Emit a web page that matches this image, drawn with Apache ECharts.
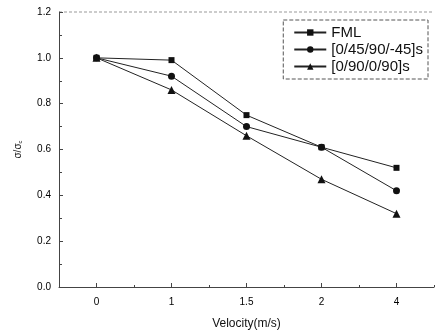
<!DOCTYPE html>
<html><head><meta charset="utf-8">
<script src="https://cdn.jsdelivr.net/npm/echarts@6/dist/echarts.min.js"></script>
<style>html,body{margin:0;padding:0;background:#fff}#c{width:435px;height:335px}</style>
</head><body><div id="c"></div>
<script>
var categories = ['0', '1', '1.5', '2', '4'];
var seriesNames = ['FML', '[0/45/90/-45]s', '[0/90/0/90]s'];
var fml = [1.0, 0.99, 0.75, 0.61, 0.52];
var quasi = [1.0, 0.92, 0.70, 0.61, 0.42];
var cross = [1.0, 0.86, 0.66, 0.47, 0.32];
var yTicks = [0, 0.2, 0.4, 0.6, 0.8, 1.0, 1.2];

var chart = echarts.init(document.getElementById('c'));
var font = 'Liberation Sans, Arial, sans-serif';
function mk(name, data, symbol, size) {
  return {
    name: name, type: 'line', data: data, symbol: symbol, symbolSize: size,
    itemStyle: {color: '#111'}, lineStyle: {color: '#222', width: 1},
    animation: false
  };
}
chart.setOption({
  animation: false,
  grid: {left: 59, top: 12, right: 1, bottom: 46},
  legend: {
    right: 7, top: 20, orient: 'vertical', itemGap: 2, itemWidth: 32, itemHeight: 8,
    borderColor: '#555', borderWidth: 1, borderType: 'dashed', padding: [5, 5, 5, 10],
    textStyle: {fontFamily: font, fontSize: 15, color: '#111'},
    data: seriesNames
  },
  xAxis: [{
    type: 'category', data: categories, boundaryGap: true,
    name: 'Velocity(m/s)', nameLocation: 'middle', nameGap: 31,
    nameTextStyle: {fontFamily: font, fontSize: 12, color: '#111'},
    axisLine: {lineStyle: {color: '#444', width: 1}},
    axisTick: {show: true, inside: true, alignWithLabel: true, length: 4, lineStyle: {color: '#444'}},
    axisLabel: {fontFamily: font, fontSize: 10, color: '#000', margin: 10},
    splitLine: {show: false}
  }, {
    type: 'category', data: categories, boundaryGap: true, position: 'bottom',
    axisLine: {show: false},
    axisTick: {show: true, inside: true, alignWithLabel: false, length: 2, lineStyle: {color: '#444'}},
    axisLabel: {show: false}, splitLine: {show: false}
  }],
  yAxis: {
    type: 'value', min: 0, max: 1.2, interval: 0.2,
    name: '{a|σ/σ}{b|c}', nameLocation: 'middle', nameGap: 36, nameRotate: 90,
    nameTextStyle: {rich: {a: {fontFamily: font, fontSize: 10, color: '#111'}, b: {fontFamily: font, fontSize: 6, color: '#111', verticalAlign: 'bottom'}}},
    axisLine: {show: true, lineStyle: {color: '#444', width: 1}},
    axisTick: {show: true, inside: true, length: 4, lineStyle: {color: '#444'}},
    minorTick: {show: true, splitNumber: 2, length: 3, lineStyle: {color: '#444'}},
    axisLabel: {fontFamily: font, fontSize: 10, color: '#000', margin: 8,
      formatter: function (v) { return v.toFixed(1); }},
    splitLine: {show: false}
  },
  series: [
    mk(seriesNames[0], fml, 'rect', 6),
    mk(seriesNames[1], quasi, 'circle', 7),
    mk(seriesNames[2], cross, 'triangle', 8)
  ],
  graphic: [{type: 'line', shape: {x1: 59, y1: 12, x2: 434, y2: 12}, style: {stroke: '#999', lineDash: [3, 2], lineWidth: 1}}]
});
</script></body></html>
